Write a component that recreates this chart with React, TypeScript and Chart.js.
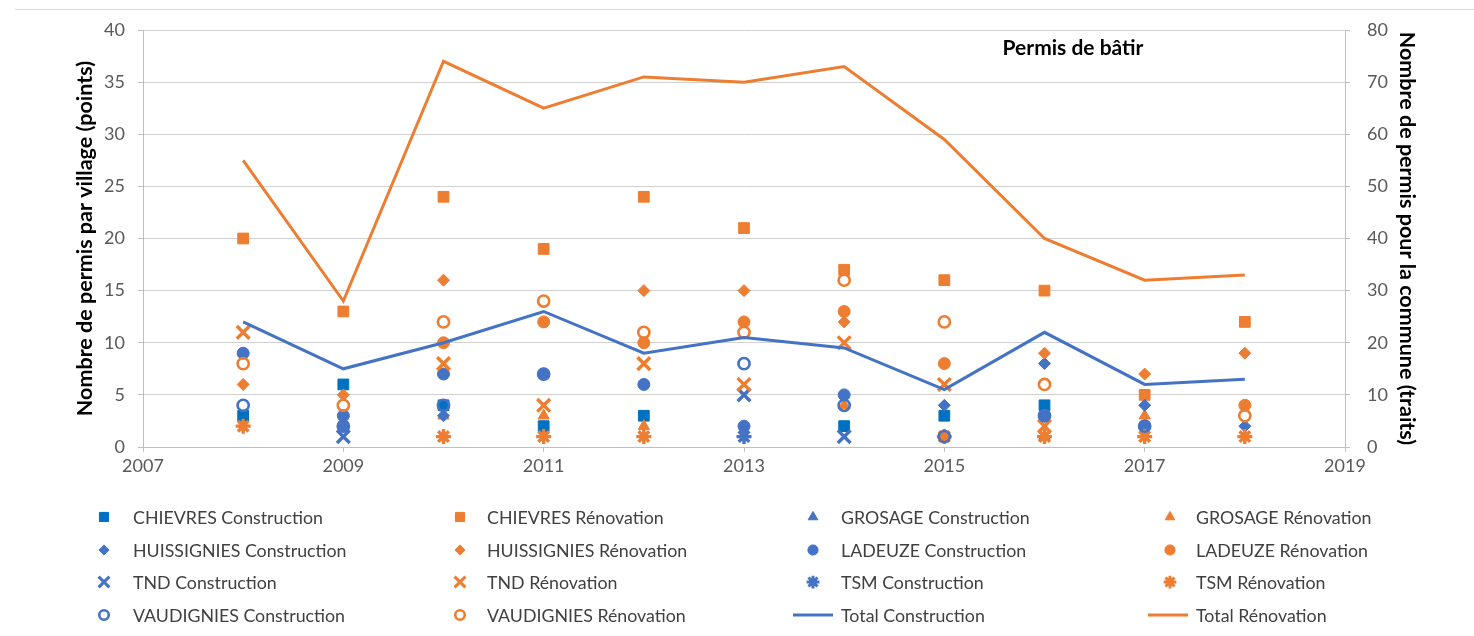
import React, { useEffect, useRef } from 'react';
import { Chart, registerables } from 'chart.js';
import { drawPoint } from 'chart.js/helpers';

Chart.register(...registerables);

const years = [2008, 2009, 2010, 2011, 2012, 2013, 2014, 2015, 2016, 2017, 2018];

const chievresConstruction = [3, 6, 4, 2, 3, null, 2, 3, 4, null, null];
const chievresRenovation = [20, 13, 24, 19, 24, 21, 17, 16, 15, 5, 12];
const grosageConstruction = [null, null, null, null, null, null, null, null, 1, null, null];
const grosageRenovation = [null, null, 3, 3, 2, null, 4, null, null, 3, null];
const huissigniesConstruction = [null, 2, 3, null, null, null, null, 4, 8, 4, 2];
const huissigniesRenovation = [6, 5, 16, null, 15, 15, 12, null, 9, 7, 9];
const ladeuzeConstruction = [9, 3, 7, 7, 6, 2, 5, null, 3, 2, null];
const ladeuzeRenovation = [null, null, 10, 12, 10, 12, 13, 8, null, null, 4];
const tndConstruction = [null, 1, null, null, null, 5, 1, null, null, null, null];
const tndRenovation = [11, null, 8, 4, 8, 6, 10, 6, 2, null, null];
const tsmConstruction = [null, null, null, null, null, 1, null, null, null, null, null];
const tsmRenovation = [2, null, 1, 1, 1, null, null, 1, 1, 1, 1];
const vaudigniesConstruction = [4, 2, 4, 7, null, 8, 4, 1, 3, 2, null];
const vaudigniesRenovation = [8, 4, 12, 14, 11, 11, 16, 12, 6, null, 3];
const totalConstruction = [24, 15, 20, 26, 18, 21, 19, 11, 22, 12, 13];
const totalRenovation = [55, 28, 74, 65, 71, 70, 73, 59, 40, 32, 33];

const leftTicks = [0, 5, 10, 15, 20, 25, 30, 35, 40];
const rightTicks = [0, 10, 20, 30, 40, 50, 60, 70, 80];
const xTicks = [2007, 2009, 2011, 2013, 2015, 2017, 2019];

const BLUE = '#4472C4';
const DBLUE = '#0070C0';
const ORANGE = '#ED7D31';
const FONT = 'Lato, "Open Sans", sans-serif';

type Series = {
  label: string;
  values: (number | null)[];
  color: string;
  style: string;
  radius: number;
  hollow?: boolean;
  line?: boolean;
};

const series: Series[] = [
  { label: 'CHIEVRES Construction', values: chievresConstruction, color: DBLUE, style: 'rect', radius: 7.6 },
  { label: 'CHIEVRES Rénovation', values: chievresRenovation, color: ORANGE, style: 'rect', radius: 7.6 },
  { label: 'GROSAGE Construction', values: grosageConstruction, color: BLUE, style: 'triangle', radius: 6.5 },
  { label: 'GROSAGE Rénovation', values: grosageRenovation, color: ORANGE, style: 'triangle', radius: 6.5 },
  { label: 'HUISSIGNIES Construction', values: huissigniesConstruction, color: BLUE, style: 'rectRot', radius: 6 },
  { label: 'HUISSIGNIES Rénovation', values: huissigniesRenovation, color: ORANGE, style: 'rectRot', radius: 6 },
  { label: 'LADEUZE Construction', values: ladeuzeConstruction, color: BLUE, style: 'circle', radius: 6 },
  { label: 'LADEUZE Rénovation', values: ladeuzeRenovation, color: ORANGE, style: 'circle', radius: 6 },
  { label: 'TND Construction', values: tndConstruction, color: BLUE, style: 'crossRot', radius: 9 },
  { label: 'TND Rénovation', values: tndRenovation, color: ORANGE, style: 'crossRot', radius: 9 },
  { label: 'TSM Construction', values: tsmConstruction, color: BLUE, style: 'star', radius: 7.5 },
  { label: 'TSM Rénovation', values: tsmRenovation, color: ORANGE, style: 'star', radius: 7.5 },
  { label: 'VAUDIGNIES Construction', values: vaudigniesConstruction, color: BLUE, style: 'circle', radius: 5.6, hollow: true },
  { label: 'VAUDIGNIES Rénovation', values: vaudigniesRenovation, color: ORANGE, style: 'circle', radius: 5.6, hollow: true },
  { label: 'Total Construction', values: totalConstruction, color: BLUE, style: 'line', radius: 0, line: true },
  { label: 'Total Rénovation', values: totalRenovation, color: ORANGE, style: 'line', radius: 0, line: true },
];

const isCross = (s: string) => s === 'crossRot' || s === 'star' || s === 'cross';

const legendMarkerX = [104, 460, 813, 1170];
const legendTextX = [133, 487, 841, 1196];
const legendRowY = [517, 550, 582, 615];

const extrasPlugin = {
  id: 'extras',
  afterDraw(chart: any) {
    const ctx = chart.ctx as CanvasRenderingContext2D;
    ctx.save();
    ctx.strokeStyle = '#D9D9D9';
    ctx.lineWidth = 1;
    ctx.beginPath();
    ctx.moveTo(15, 9.5);
    ctx.lineTo(1474, 9.5);
    ctx.stroke();
    ctx.fillStyle = '#000000';
    ctx.font = `bold 21px ${FONT}`;
    ctx.textAlign = 'center';
    ctx.textBaseline = 'middle';
    ctx.fillText('Permis de bâtir', 1073, 48);
    ctx.font = `17.8px ${FONT}`;
    ctx.textAlign = 'left';
    series.forEach((s, i) => {
      const col = i % 4;
      const row = Math.floor(i / 4);
      const y = legendRowY[row];
      const mx = legendMarkerX[col];
      if (s.line) {
        ctx.strokeStyle = s.color;
        ctx.lineWidth = 3;
        ctx.beginPath();
        ctx.moveTo(legendTextX[col] - 48, y);
        ctx.lineTo(legendTextX[col] - 8, y);
        ctx.stroke();
      } else {
        ctx.fillStyle = s.hollow ? 'rgba(0,0,0,0)' : s.color;
        ctx.strokeStyle = s.color;
        ctx.lineWidth = s.hollow ? 2.6 : isCross(s.style) ? 3 : 1;
        drawPoint(ctx, { pointStyle: s.style as any, radius: s.radius * 0.85, borderWidth: ctx.lineWidth, rotation: 0 } as any, mx, y);
      }
      ctx.fillStyle = '#404040';
      ctx.fillText(s.label, legendTextX[col], y + 1);
    });
    ctx.restore();
  },
};

export default function App() {
  const ref = useRef<HTMLCanvasElement | null>(null);
  useEffect(() => {
    document.body.style.margin = '0';
    const n = series.length;
    const datasets: any[] = series.map((s, i) => {
      const data = years
        .map((x, k) => ({ x, y: s.values[k] }))
        .filter((p) => p.y !== null && p.y !== undefined);
      if (s.line) {
        return {
          label: s.label,
          data,
          showLine: true,
          yAxisID: 'y2',
          borderColor: s.color,
          backgroundColor: s.color,
          borderWidth: 3,
          pointRadius: 0,
          tension: 0,
          fill: false,
          order: n - i,
        };
      }
      return {
        label: s.label,
        data,
        showLine: false,
        yAxisID: 'y',
        pointStyle: s.style,
        pointRadius: s.radius,
        pointHoverRadius: s.radius,
        pointBackgroundColor: s.hollow ? 'rgba(0,0,0,0)' : s.color,
        pointBorderColor: s.color,
        pointBorderWidth: s.hollow ? 2.6 : isCross(s.style) ? 3.4 : 1,
        order: n - i,
      };
    });

    const tickFont = { family: FONT, size: 18 };
    const titleFont = { family: FONT, size: 21.5, weight: 'bold' as const };

    const chart = new Chart(ref.current as HTMLCanvasElement, {
      type: 'scatter',
      data: { datasets },
      options: {
        animation: false,
        responsive: false,
        maintainAspectRatio: false,
        layout: { padding: { left: 70, right: 52, top: 30, bottom: 0 } },
        plugins: { legend: { display: false }, tooltip: { enabled: false } },
        scales: {
          x: {
            type: 'linear',
            min: 2007,
            max: 2019,
            afterBuildTicks: (scale: any) => {
              scale.ticks = xTicks.map((v) => ({ value: v }));
            },
            afterFit: (scale: any) => {
              scale.height = 189;
            },
            ticks: { font: tickFont, color: '#595959', padding: 3, callback: (v: any) => String(v) },
            grid: { drawOnChartArea: false, tickLength: 5, color: '#BFBFBF' },
            border: { color: '#BFBFBF' },
          },
          y: {
            position: 'left',
            min: 0,
            max: 40,
            afterBuildTicks: (scale: any) => {
              scale.ticks = leftTicks.map((v) => ({ value: v }));
            },
            afterFit: (scale: any) => {
              scale.width = 73;
            },
            ticks: { font: tickFont, color: '#595959', padding: 13 },
            grid: { color: '#D0D0D0', tickLength: 5, tickColor: '#BFBFBF' },
            border: { color: '#BFBFBF' },
            title: {
              display: true,
              text: 'Nombre de permis par village (points)',
              font: titleFont,
              color: '#000000',
              padding: { top: 2, bottom: 0 },
            },
          },
          y2: {
            position: 'right',
            min: 0,
            max: 80,
            afterBuildTicks: (scale: any) => {
              scale.ticks = rightTicks.map((v) => ({ value: v }));
            },
            afterFit: (scale: any) => {
              scale.width = 77;
            },
            ticks: { font: tickFont, color: '#595959', padding: 17 },
            grid: { drawOnChartArea: false, tickLength: 5, color: '#BFBFBF' },
            border: { color: '#BFBFBF' },
            title: {
              display: true,
              text: 'Nombre de permis pour la commune (traits)',
              font: titleFont,
              color: '#000000',
              padding: { top: 2, bottom: 0 },
            },
          },
        },
      } as any,
      plugins: [extrasPlugin],
    });
    return () => chart.destroy();
  }, []);

  return (
    <div style={{ width: 1474, height: 636 }}>
      <canvas ref={ref} width={1474} height={636} style={{ display: 'block', width: 1474, height: 636 }} />
    </div>
  );
}
